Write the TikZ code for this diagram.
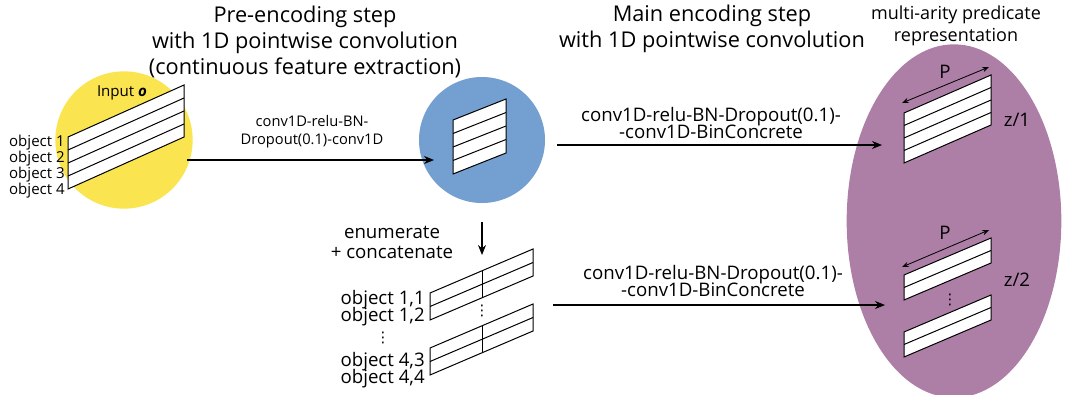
\documentclass[tikz,border=0pt]{standalone}
\usepackage{fontspec}
\setmainfont{Open Sans}
\newfontfamily\symfont{DejaVu Sans}
\usetikzlibrary{arrows.meta, shapes.geometric, positioning}
\definecolor{inyellow}{RGB}{250,228,80}
\definecolor{preblue}{RGB}{115,160,208}
\definecolor{reppurple}{RGB}{173,126,166}
\newcommand{\tightlines}{\lineskiplimit=-20pt\relax}
% striped parallelogram: left x, top-left y, width, rise, strip height, strips
\newcommand{\slab}[6]{%
  \draw[fill=white, line width=0.75pt] (#1,#2) -- ++(#3,-#4) -- ++(0,#5*#6) -- ++(-#3,#4) -- cycle;
  \pgfmathtruncatemacro\lastk{#6-1}%
  \foreach \k in {1,...,\lastk} \draw[line width=0.75pt] (#1,#2+\k*#5) -- ++(#3,-#4);
}

\begin{document}
\begin{tikzpicture}[
    x=0.75pt, y=-0.75pt,
    title/.style={align=center, inner sep=0pt, font=\fontsize{16.3}{19.5}\selectfont},
    smalllbl/.style={align=center, inner sep=0pt, font=\fontsize{11.3}{13.5}\selectfont},
    biglbl/.style={align=center, inner sep=0pt, font=\fontsize{14}{12.5}\selectfont\tightlines},
    vdot/.style={inner sep=0pt, font=\symfont\fontsize{11}{11}\selectfont},
    flow/.style={-{Stealth[length=7.5pt, width=6pt]}, line width=0.8pt},
    span/.style={{Stealth[length=5pt, width=4pt]}-{Stealth[length=5pt, width=4pt]}, line width=0.6pt},
]
\useasboundingbox (0,0) rectangle (1065,394);

% blobs
\node[circle, fill=inyellow, minimum size=103pt, inner sep=0pt] (inp) at (124,140) {};
\node[circle, fill=preblue, minimum size=94.5pt, inner sep=0pt] (pre) at (482,140) {};
\node[ellipse, fill=reppurple, minimum width=161pt, minimum height=265pt, inner sep=0pt] (rep) at (954,221) {};

% titles
\node[title] (pretitle) at (305,42) {Pre-encoding step\\with 1D pointwise convolution\\(continuous feature extraction)};
\node[title] (maintitle) at (712,29) {Main encoding step\\with 1D pointwise convolution};
\node[align=center, inner sep=0pt, font=\fontsize{13.5}{16.5}\selectfont] (reptitle) at (956,26) {multi-arity predicate\\representation};

% input objects
\slab{68}{137}{116}{52}{13}{4}
\node[smalllbl] (inlbl) at (122,93) {Input \textbf{\textit{o}}};
\foreach \i/\yy in {1/143,2/159,3/175,4/191}
  \node[smalllbl, anchor=east] (obj\i) at (65,\yy) {object \i};

% pre-encoded
\slab{453}{120}{53}{21}{13.5}{4}

% pairs
\slab{430}{293}{103}{44}{13.5}{2}
\slab{430}{348}{103}{44}{13.5}{2}
\draw[line width=0.75pt] (482,271) -- (482,298);
\draw[line width=0.75pt] (482,326) -- (482,353);
\node[vdot] (pdots) at (482,311) {⋮};
\node[biglbl, align=right, anchor=east] (pairtop) at (425,308) {object 1,1\\object 1,2};
\node[vdot] (pairdots) at (383,338) {⋮};
\node[biglbl, align=right, anchor=east] (pairbot) at (425,370) {object 4,3\\object 4,4};
\node[biglbl, font=\fontsize{14}{15}\selectfont] (enum) at (392,242) {enumerate\\+ concatenate};

% predicate representation
\slab{904}{113}{87}{38}{12.5}{4}
\slab{904}{275}{87}{37}{12.5}{2}
\slab{904}{332}{87}{37}{12.5}{2}
\node[vdot] (rdots) at (950,300) {⋮};
\coordinate (p1a) at (902,103);
\coordinate (p1b) at (989,67);
\coordinate (p2a) at (902,267);
\coordinate (p2b) at (989,230);
\draw[span] (p1a) -- (p1b);
\draw[span] (p2a) -- (p2b);
\node[biglbl] (plbl1) at (945,72) {P};
\node[biglbl] (plbl2) at (945,233) {P};
\node[biglbl] (zlbl1) at (1017,120) {z/1};
\node[biglbl] (zlbl2) at (1017,280) {z/2};

% connectors
\coordinate (a1s) at (187,160);
\coordinate (a1e) at (434,160);
\coordinate (a2s) at (482,222);
\coordinate (a2e) at (482,255);
\coordinate (a3s) at (557,145);
\coordinate (a3e) at (882,145);
\coordinate (a4s) at (553,305);
\coordinate (a4e) at (885,305);
\draw[flow] (a1s) -- (a1e);
\draw[flow] (a2s) -- (a2e);
\draw[flow] (a3s) -- (a3e);
\draw[flow] (a4s) -- (a4e);
\node[smalllbl, font=\fontsize{11}{13.5}\selectfont] (conv1) at (312,132) {conv1D-relu-BN-\\Dropout(0.1)-conv1D};
\node[biglbl] (conv2) at (711,123) {conv1D-relu-BN-Dropout(0.1)-\\-conv1D-BinConcrete};
\node[biglbl] (conv3) at (713,281) {conv1D-relu-BN-Dropout(0.1)-\\-conv1D-BinConcrete};
\end{tikzpicture}
\end{document}
